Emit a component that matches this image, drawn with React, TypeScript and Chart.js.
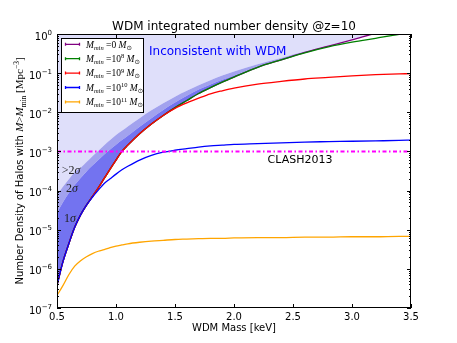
import React, { useEffect, useRef } from 'react';
import { Chart, registerables } from 'chart.js';

Chart.register(...registerables);

// ---- data (log10 of number density) ----
const massKeV = [0.5, 0.55, 0.6, 0.65, 0.7, 0.75, 0.8, 0.85, 0.9, 0.95, 1.0, 1.05, 1.1, 1.2, 1.3, 1.4, 1.5, 1.6, 1.7, 1.8, 1.9, 2.0, 2.2, 2.4, 2.6, 2.8, 3.0, 3.2, 3.4, 3.5];

const logMmin0 = [-6.42, -5.82, -5.36, -4.94, -4.62, -4.37, -4.15, -3.93, -3.69, -3.45, -3.22, -3.0, -2.84, -2.55, -2.3, -2.08, -1.88, -1.7, -1.52, -1.37, -1.23, -1.1, -0.85, -0.66, -0.47, -0.31, -0.15, 0.02, 0.17, 0.24];
const logMmin1e8 = [-6.42, -5.82, -5.36, -4.94, -4.62, -4.37, -4.15, -3.93, -3.69, -3.45, -3.22, -3.0, -2.84, -2.55, -2.3, -2.08, -1.88, -1.7, -1.52, -1.37, -1.23, -1.1, -0.85, -0.66, -0.48, -0.33, -0.21, -0.11, -0.01, 0.03];
const logMmin1e9 = [-6.42, -5.82, -5.36, -4.94, -4.62, -4.37, -4.15, -3.93, -3.69, -3.45, -3.22, -3.0, -2.84, -2.55, -2.3, -2.08, -1.9, -1.76, -1.64, -1.53, -1.45, -1.38, -1.28, -1.21, -1.15, -1.11, -1.07, -1.04, -1.02, -1.01];
const logMmin1e10 = [-6.42, -5.82, -5.36, -4.94, -4.62, -4.37, -4.17, -3.99, -3.82, -3.7, -3.58, -3.47, -3.38, -3.22, -3.1, -3.02, -2.97, -2.93, -2.89, -2.86, -2.84, -2.82, -2.8, -2.78, -2.76, -2.75, -2.74, -2.73, -2.72, -2.71];
const logMmin1e11 = [-6.68, -6.43, -6.15, -5.93, -5.79, -5.69, -5.61, -5.55, -5.51, -5.46, -5.42, -5.39, -5.36, -5.32, -5.29, -5.27, -5.25, -5.24, -5.23, -5.22, -5.22, -5.21, -5.2, -5.2, -5.19, -5.19, -5.18, -5.18, -5.17, -5.17];

const logSigma1Upper = [-4.57, -4.3, -4.06, -3.86, -3.68, -3.51, -3.36, -3.22, -3.08, -2.95, -2.83, -2.71, -2.6, -2.37, -2.15, -1.94, -1.75, -1.58, -1.42, -1.29, -1.17, -1.06, -0.84, -0.65, -0.47, -0.31, -0.15, 0.02, 0.17, 0.24];
const logSigma2Upper = [-4.11, -3.9, -3.71, -3.53, -3.42, -3.27, -3.12, -2.98, -2.84, -2.71, -2.58, -2.47, -2.36, -2.15, -1.95, -1.77, -1.6, -1.45, -1.31, -1.18, -1.06, -0.96, -0.77, -0.61, -0.45, -0.3, -0.15, 0.02, 0.17, 0.24];

const clashMass = [0.5, 3.5];
const clashDensity = [1e-3, 1e-3];

const xTickValues = [0.5, 1.0, 1.5, 2.0, 2.5, 3.0, 3.5];
const xTickLabels = ['0.5', '1.0', '1.5', '2.0', '2.5', '3.0', '3.5'];
const yDecades = [0, -1, -2, -3, -4, -5, -6, -7];
const yTickExpLabels = ['0', '\u22121', '\u22122', '\u22123', '\u22124', '\u22125', '\u22126', '\u22127'];

const legendPowers = ['', '8', '9', '10', '11'];
const legendColors = ['#800080', '#008000', '#ff0000', '#0000ff', '#ffa500'];

const SANS = '"DejaVu Sans", sans-serif';
const SERIF = '"Liberation Serif", "DejaVu Serif", serif';

const toPoints = (logs: number[]) => massKeV.map((m, i) => ({ x: m, y: Math.pow(10, logs[i]) }));

type Seg = { t: string; font: string; dy?: number };
function drawRich(ctx: CanvasRenderingContext2D, segs: Seg[], x: number, y: number, align: 'left' | 'center' | 'right') {
  let w = 0;
  for (const s of segs) {
    ctx.font = s.font;
    w += ctx.measureText(s.t).width;
  }
  let cx = align === 'left' ? x : align === 'center' ? x - w / 2 : x - w;
  ctx.textAlign = 'left';
  ctx.textBaseline = 'alphabetic';
  for (const s of segs) {
    ctx.font = s.font;
    ctx.fillText(s.t, cx, y + (s.dy || 0));
    cx += ctx.measureText(s.t).width;
  }
}

const decorPlugin = {
  id: 'mplDecor',
  afterDraw(chart: any) {
    const ctx: CanvasRenderingContext2D = chart.ctx;
    const xs = chart.scales.x;
    const ys = chart.scales.y;
    const { left, right, top, bottom } = chart.chartArea;
    ctx.save();

    // frame
    ctx.strokeStyle = '#000';
    ctx.lineWidth = 1;
    ctx.strokeRect(Math.round(left) + 0.5, Math.round(top) + 0.5, Math.round(right - left) - 1, Math.round(bottom - top) - 1);

    // x ticks
    ctx.beginPath();
    for (const v of xTickValues) {
      const px = Math.round(xs.getPixelForValue(v)) + 0.5;
      ctx.moveTo(px, bottom);
      ctx.lineTo(px, bottom - 4);
      ctx.moveTo(px, top);
      ctx.lineTo(px, top + 4);
    }
    // y ticks
    for (let i = 0; i < yDecades.length; i++) {
      const d = yDecades[i];
      const py = Math.round(ys.getPixelForValue(Math.pow(10, d))) + 0.5;
      ctx.moveTo(left, py);
      ctx.lineTo(left + 4, py);
      ctx.moveTo(right, py);
      ctx.lineTo(right - 4, py);
      if (d > -7) {
        for (let k = 2; k <= 9; k++) {
          const pm = Math.round(ys.getPixelForValue(k * Math.pow(10, d - 1))) + 0.5;
          ctx.moveTo(left, pm);
          ctx.lineTo(left + 2, pm);
          ctx.moveTo(right, pm);
          ctx.lineTo(right - 2, pm);
        }
      }
    }
    ctx.stroke();

    ctx.fillStyle = '#000';
    // x tick labels
    ctx.font = `10px ${SANS}`;
    ctx.textAlign = 'center';
    ctx.textBaseline = 'alphabetic';
    xTickValues.forEach((v, i) => {
      ctx.fillText(xTickLabels[i], xs.getPixelForValue(v), bottom + 12);
    });
    // y tick labels
    yDecades.forEach((d, i) => {
      const py = ys.getPixelForValue(Math.pow(10, d));
      drawRich(ctx, [
        { t: '10', font: `10px ${SANS}` },
        { t: yTickExpLabels[i], font: `7px ${SANS}`, dy: -5 },
      ], left - 5, py + 5.5, 'right');
    });

    // title
    ctx.font = `12px ${SANS}`;
    ctx.textAlign = 'center';
    ctx.fillText('WDM integrated number density @z=10', (left + right) / 2, 30);
    // x title
    ctx.font = `10px ${SANS}`;
    ctx.fillText('WDM Mass [keV]', (left + right) / 2, 331);

    // y title (rotated)
    ctx.save();
    ctx.translate(23, (top + bottom) / 2);
    ctx.rotate(-Math.PI / 2);
    drawRich(ctx, [
      { t: 'Number Density of Halos with ', font: `10px ${SANS}` },
      { t: 'M', font: `italic 11px ${SERIF}` },
      { t: '>', font: `11px ${SERIF}` },
      { t: 'M', font: `italic 11px ${SERIF}` },
      { t: 'min', font: `7.5px ${SERIF}`, dy: 2.5 },
      { t: ' [Mpc', font: `11px ${SERIF}` },
      { t: '\u22123', font: `7.5px ${SERIF}`, dy: -4 },
      { t: ']', font: `11px ${SERIF}` },
    ], 0, 0, 'center');
    ctx.restore();

    // annotations
    ctx.fillStyle = '#0000ff';
    drawRich(ctx, [{ t: 'Inconsistent with WDM', font: `12px ${SANS}` }], 149, 55, 'left');
    ctx.fillStyle = '#000';
    drawRich(ctx, [{ t: 'CLASH2013', font: `11px ${SANS}` }], 300, 163, 'center');
    ctx.fillStyle = '#222';
    drawRich(ctx, [{ t: '>2', font: `12px ${SERIF}` }, { t: '\u03c3', font: `italic 12px ${SERIF}` }], 71, 174, 'center');
    drawRich(ctx, [{ t: '2', font: `12px ${SERIF}` }, { t: '\u03c3', font: `italic 12px ${SERIF}` }], 72, 192, 'center');
    drawRich(ctx, [{ t: '1', font: `12px ${SERIF}` }, { t: '\u03c3', font: `italic 12px ${SERIF}` }], 70, 222, 'center');

    // legend
    const lx = 61, ly = 38, lw = 82, lh = 74;
    ctx.fillStyle = '#fff';
    ctx.fillRect(lx, ly, lw, lh);
    ctx.strokeStyle = '#000';
    ctx.lineWidth = 1;
    ctx.strokeRect(lx + 0.5, ly + 0.5, lw, lh);
    legendPowers.forEach((p, i) => {
      const ry = 44.3 + i * 14.4;
      ctx.strokeStyle = legendColors[i];
      ctx.lineWidth = 1.3;
      ctx.beginPath();
      ctx.moveTo(65, ry);
      ctx.lineTo(80, ry);
      ctx.moveTo(65.5, ry - 1.5);
      ctx.lineTo(65.5, ry + 1.5);
      ctx.moveTo(79.5, ry - 1.5);
      ctx.lineTo(79.5, ry + 1.5);
      ctx.stroke();
      ctx.fillStyle = '#000';
      const segs: Seg[] = [
        { t: 'M', font: `italic 9.5px ${SERIF}` },
        { t: 'min', font: `italic 6.5px ${SERIF}`, dy: 2 },
      ];
      if (p === '') {
        segs.push({ t: ' =0 ', font: `9.5px ${SERIF}` });
      } else {
        segs.push({ t: ' =10', font: `9.5px ${SERIF}` });
        segs.push({ t: p, font: `6.5px ${SERIF}`, dy: -3.5 });
        segs.push({ t: ' ', font: `9.5px ${SERIF}` });
      }
      segs.push({ t: 'M', font: `italic 9.5px ${SERIF}` });
      segs.push({ t: '\u2299', font: `6.5px ${SANS}`, dy: 2 });
      drawRich(ctx, segs, 86, ry + 3.2, 'left');
    });

    ctx.restore();
  },
};

export default function App() {
  const canvasRef = useRef<HTMLCanvasElement | null>(null);

  useEffect(() => {
    const canvas = canvasRef.current;
    if (!canvas) return;
    const lineCommon = {
      pointRadius: 0,
      borderWidth: 1.3,
      cubicInterpolationMode: 'monotone' as const,
      fill: false,
    };
    const chart = new Chart(canvas, {
      type: 'line',
      data: {
        datasets: [
          {
            label: '2sigma upper',
            data: toPoints(logSigma2Upper),
            borderColor: 'rgba(0,0,0,0)',
            borderWidth: 0,
            pointRadius: 0,
            backgroundColor: 'rgb(223,223,250)',
            fill: 'end',
            cubicInterpolationMode: 'monotone',
            order: 20,
          },
          {
            label: '1sigma upper',
            data: toPoints(logSigma1Upper),
            borderColor: 'rgba(0,0,0,0)',
            borderWidth: 0,
            pointRadius: 0,
            backgroundColor: 'rgb(162,162,238)',
            fill: 0,
            cubicInterpolationMode: 'monotone',
            order: 19,
          },
          {
            ...lineCommon,
            label: 'Mmin=0',
            data: toPoints(logMmin0),
            borderColor: '#800080',
            backgroundColor: 'rgb(115,115,240)',
            fill: 1,
            order: 6,
          },
          { ...lineCommon, label: 'Mmin=1e8', data: toPoints(logMmin1e8), borderColor: '#008000', order: 5 },
          { ...lineCommon, label: 'Mmin=1e9', data: toPoints(logMmin1e9), borderColor: '#ff0000', order: 4 },
          { ...lineCommon, label: 'Mmin=1e10', data: toPoints(logMmin1e10), borderColor: '#0000ff', order: 3 },
          { ...lineCommon, label: 'Mmin=1e11', data: toPoints(logMmin1e11), borderColor: '#ffa500', order: 2 },
          {
            label: 'CLASH2013',
            data: clashMass.map((m, i) => ({ x: m, y: clashDensity[i] })),
            borderColor: '#ff00ff',
            borderWidth: 2,
            borderDash: [4, 2.5, 1.5, 2.5],
            pointRadius: 0,
            fill: false,
            order: 1,
          },
        ],
      },
      options: {
        animation: false,
        responsive: false,
        devicePixelRatio: 1,
        parsing: false as any,
        layout: { padding: { left: 57, top: 34, right: 46, bottom: 35 } },
        scales: {
          x: { type: 'linear', min: 0.5, max: 3.5, display: false },
          y: { type: 'logarithmic', min: 1e-7, max: 1, display: false },
        },
        plugins: {
          legend: { display: false },
          tooltip: { enabled: false },
          filler: { drawTime: 'beforeDatasetsDraw' } as any,
        },
      },
      plugins: [decorPlugin],
    });
    return () => chart.destroy();
  }, []);

  return (
    <div style={{ position: 'absolute', left: 0, top: 0, width: 457, height: 343, background: '#fff' }}>
      <canvas ref={canvasRef} width={457} height={343} style={{ display: 'block', width: 457, height: 343 }} />
    </div>
  );
}
